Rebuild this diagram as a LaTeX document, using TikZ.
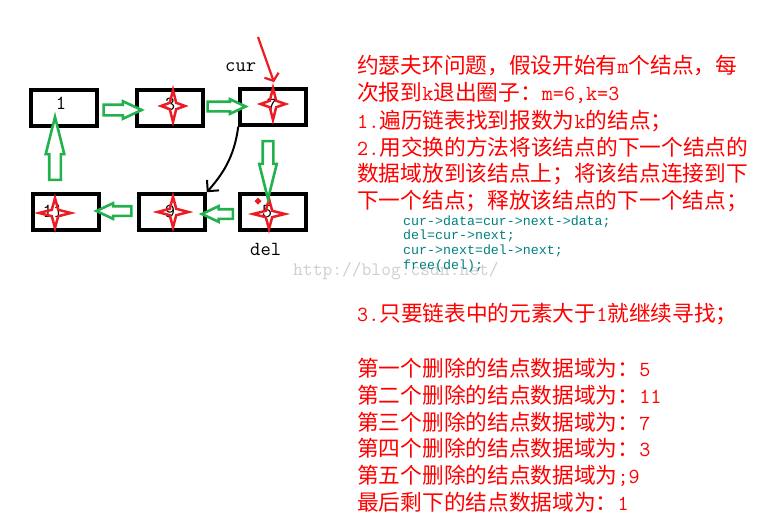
\documentclass[tikz,border=0pt]{standalone}
\usepackage{fontspec}
\newfontfamily\cjk{Noto Sans CJK SC}
\newfontfamily\codef{Liberation Mono}
\usetikzlibrary{shapes.arrows,calc,arrows.meta}
\definecolor{pred}{HTML}{ED1C24}
\definecolor{pgreen}{HTML}{22B14C}
\definecolor{tred}{HTML}{FF0000}
\definecolor{tteal}{HTML}{008080}
\definecolor{wmgray}{HTML}{CFCFCF}
\newcommand\A[1]{{\ttfamily\fontsize{21.5}{26}\selectfont #1}}
\newcommand\rstar[4]{%
  \draw[starline, shift={(#1,#2)}] (0,-#4) -- (3.2,-3.2) -- (#3,0) -- (3.2,3.2) -- (0,#4)
     -- (-3.2,3.2) -- (-#3,0) -- (-3.2,-3.2) -- cycle;}
\begin{document}
\begin{tikzpicture}[x=1pt,y=-1pt,
  listbox/.style={draw, line width=3.6pt, minimum width=66pt, minimum height=36pt, inner sep=0pt},
  digit/.style={inner sep=0pt, font=\ttfamily\fontsize{20}{24}\selectfont},
  harr/.style={single arrow, draw=pgreen, line width=2.6pt, fill=white, inner sep=0pt,
     single arrow head extend=3.5pt, single arrow tip angle=50},
  varr/.style={harr, single arrow tip angle=28},
  starline/.style={draw=pred, line width=2.5pt, line join=miter},
  redtxt/.style={anchor=base west, inner sep=0pt, text=tred, font=\cjk\fontsize{21.7}{26}\selectfont},
  codetxt/.style={anchor=base west, inner sep=0pt, text=tteal, font=\codef\fontsize{13.3}{15}\selectfont},
  lbl/.style={anchor=base west, inner sep=0pt, font=\ttfamily\fontsize{20}{24}\selectfont}
]
\useasboundingbox (0,0) rectangle (779,517);
\fill[white] (0,0) rectangle (779,517);

% boxes
\node[listbox] (b1) at (64,108) {};
\node[listbox] (b2) at (170,108) {};
\node[listbox] (b3) at (273,107) {};
\node[listbox] (b11) at (66,212) {};
\node[listbox] (b9) at (172,212) {};
\node[listbox] (b5) at (273,212) {};

% digits
\node[digit] (d1) at (61,103) {1};
\node[digit] (d2) at (170,104) {3};
\node[digit] (d3) at (272,105) {7};
\node[digit] (d11) at (53,211) {11};
\node[digit] (d9) at (170,211) {9};
\node[digit] (d5) at (267,212) {5};

% stars
\rstar{173}{106}{12}{16}
\rstar{273}{104}{12.5}{16}
\rstar{55}{213}{16}{15}
\rstar{173}{212}{15.5}{15.5}
\rstar{269}{214}{16}{15}
\fill[pred] (258,201) ++(0,-3.5) -- ++(3.5,3.5) -- ++(-3.5,3.5) -- ++(-3.5,-3.5) -- cycle;

% green hollow arrows
\node[harr, minimum height=38pt, text height=8pt] (a12) at ($(b1.east)!0.5!(b2.west)+(0,2)$) {};
\node[harr, minimum height=38pt, text height=7pt, single arrow head extend=2.5pt] (a23) at ($(b2.east)!0.5!(b3.west)+(0,-1)$) {};
\node[varr, minimum height=58pt, text height=8pt, rotate=-90] (a35) at ($(b3.south)!0.5!(b5.north)+(-5,0)$) {};
\node[harr, minimum height=31pt, text height=7pt, single arrow head extend=3pt, rotate=180] (a59) at ($(b5.west)!0.5!(b9.east)+(0,2)$) {};
\node[harr, minimum height=35pt, text height=7pt, single arrow head extend=3pt, rotate=180] (a911) at ($(b9.west)!0.5!(b11.east)+(0,-1)$) {};
\node[varr, minimum height=63pt, text height=9pt, rotate=90] (a111) at ($(b11.north)!0.5!(b1.south)+(-10,0)$) {};

% cur / del
\node[lbl] (cur) at (225,71) {cur};
\node[lbl] (del) at (250,255) {del};
\coordinate (curtail) at (258,37);
\coordinate (curtip) at ($(b3.north)+(1,-5)$);
\draw[pred, line width=2.2pt, -{Straight Barb[length=6pt,width=15pt,line width=2.2pt]}] (curtail) -- (curtip);
\draw[line width=2pt, -{Straight Barb[length=8pt,width=16pt,line width=2pt]}]
  (b3.south west) .. controls +(-4,32) and +(14,-16) .. (b9.north east);

% watermark
\node[anchor=base west, inner sep=0pt, text=wmgray, font=\ttfamily\fontsize{19}{22}\selectfont] (wm) at (293,275) {http://blog.csdn.net/};

% red text
\node[redtxt] (t1) at (357,73) {约瑟夫环问题，假设开始有\A{m}个结点，每};
\node[redtxt] (t2) at (357,100) {次报到\A{k}退出圈子：\A{m=6,k=3}};
\node[redtxt] (t3) at (357,128) {\A{1.}遍历链表找到报数为\A{k}的结点；};
\node[redtxt] (t4) at (357,155) {\A{2.}用交换的方法将该结点的下一个结点的};
\node[redtxt] (t5) at (357,181) {数据域放到该结点上；将该结点连接到下};
\node[redtxt] (t6) at (357,208) {下一个结点；释放该结点的下一个结点；};

% code
\node[codetxt] (c1) at (403,225) {cur->data=cur->next->data;};
\node[codetxt] (c2) at (403,239) {del=cur->next;};
\node[codetxt] (c3) at (403,254) {cur->next=del->next;};
\node[codetxt] (c4) at (403,269) {free(del);};

\node[redtxt] (t7) at (357,321) {\A{3.}只要链表中的元素大于\A{1}就继续寻找；};

\node[redtxt] (r1) at (357,376) {第一个删除的结点数据域为：\A{5}};
\node[redtxt] (r2) at (357,403) {第二个删除的结点数据域为：\A{11}};
\node[redtxt] (r3) at (357,430) {第三个删除的结点数据域为：\A{7}};
\node[redtxt] (r4) at (357,456) {第四个删除的结点数据域为：\A{3}};
\node[redtxt] (r5) at (357,483) {第五个删除的结点数据域为\A{;9}};
\node[redtxt] (r6) at (357,510) {最后剩下的结点数据域为：\A{1}};
\end{tikzpicture}
\end{document}
